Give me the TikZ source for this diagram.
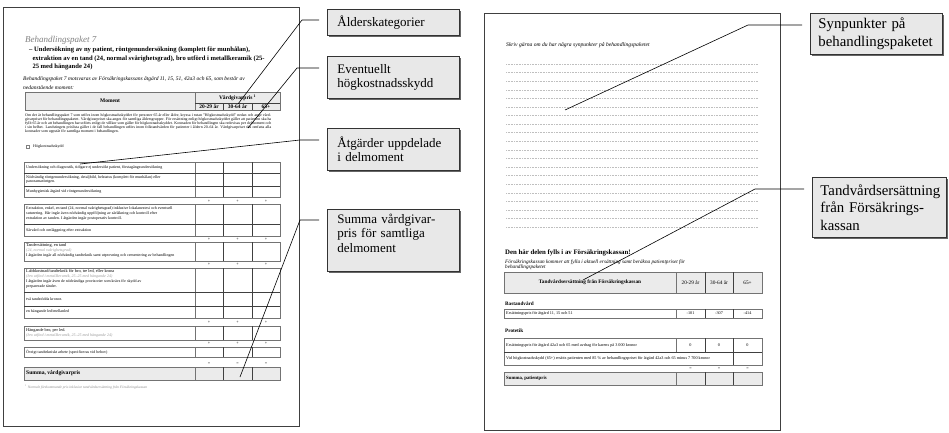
\documentclass[tikz,border=0pt]{standalone}
\usepackage{fontspec}
\setmainfont{Liberation Serif}
\usetikzlibrary{shadows}
\begin{document}
\begin{tikzpicture}[x=1pt,y=-1pt,
  pagebox/.style={draw=black!75, line width=0.9pt, fill=white, general shadow={fill=black!55, shadow xshift=1.3pt, shadow yshift=-1.3pt}},
  calbox/.style={draw=black!80, line width=0.8pt, fill=black!9, align=left, anchor=north west, inner ysep=2pt, general shadow={fill=black!60, shadow xshift=1.1pt, shadow yshift=-1.1pt}},
  calL/.style={calbox, font=\fontsize{13}{14.5}\selectfont, inner xsep=10pt, text width=112pt},
  calR/.style={calbox, font=\fontsize{14.8}{17.5}\selectfont, inner xsep=8pt},
  leaderline/.style={draw=black, line width=0.6pt, shorten >=8pt},
  tx/.style={inner sep=0pt, anchor=west, align=left, font=\fontsize{4}{4.8}\selectfont},
  txm/.style={inner sep=0pt, anchor=north west, align=left, font=\fontsize{4}{5}\selectfont},
  txc/.style={inner sep=0pt, font=\fontsize{4.2}{5}\selectfont},
  hd/.style={inner sep=0pt, font=\fontsize{5.5}{6.5}\selectfont\bfseries},
  tbl/.style={draw=black!55, line width=0.8pt},
  tblin/.style={draw=black!75, line width=0.35pt},
  hdrfill/.style={fill=black!8},
  dotline/.style={draw=black!25, line width=0.35pt, dash pattern=on 1pt off 0.6pt},
]
\useasboundingbox (0,0) rectangle (949,432);

%================ LEFT PAGE ================
\path[pagebox] (3,7) rectangle (299,426);
\node[anchor=west, inner sep=0pt, text=black!50, font=\fontsize{9}{10}\selectfont\itshape] (ltitle) at (25,40) {Behandlingspaket 7};
\node[anchor=north west, inner sep=0pt, align=left, font=\fontsize{6.6}{8.5}\selectfont\bfseries] (lhead) at (29,46.8)
 {– Undersökning av ny patient, röntgenundersökning (komplett för munhålan),\\\hspace*{3.3pt}extraktion av en tand (24, normal svårighetsgrad), bro utförd i metallkeramik (25-\\\hspace*{3.3pt}25 med hängande 24)};
\node[anchor=north west, inner sep=0pt, align=left, font=\fontsize{5.5}{8.8}\selectfont\itshape] (lintro) at (23,76.3)
 {Behandlingspaket 7 motsvaras av Försäkringskassans åtgärd 11, 15, 51, 42a3 och 65, som består av\\nedanstående moment:};

% header table
\path[tbl, hdrfill] (25,92) rectangle (280,110);
\draw[tbl] (195,92) -- (195,110);
\draw[tblin] (195,103) -- (280,103) (223,103) -- (223,110) (252,103) -- (252,110);
\node[hd] (lhm) at (110,101) {Moment};
\node[hd] (lhv) at (237.5,97.6) {Vårdgivarpris\,\textsuperscript{1}};
\node[hd] (lh1) at (209,106.7) {20-29 år};
\node[hd] (lh2) at (237.5,106.7) {30-64 år};
\node[hd] (lh3) at (266,106.7) {65+};

\node[anchor=north west, inner sep=0pt, text width=246pt, align=justify, font=\fontsize{3.9}{4}\selectfont] (lpara) at (25,113.8)
 {Om det är behandlingspaket 7 som utförs inom högkostnadsskyddet för personer 65 år eller äldre, kryssa i rutan ”Högkostnadsskydd” nedan och ange vårdgivarpriset för behandlingspaketet. Vårdgivarpriset ska anges för samtliga åldersgrupper. För ersättning enligt högkostnadsskyddet gäller att patienten ska ha fyllt 65 år och att behandlingen har utförts enligt de villkor som gäller för högkostnadsskyddet. Kostnaden för behandlingen ska redovisas per delmoment och i sin helhet. Landstingets prislista gäller i de fall behandlingen utförs inom folktandvården för patienter i åldern 20–64 år. Vårdgivarpriset ska omfatta alla kostnader som uppstår för samtliga moment i behandlingen.};
\draw[black!50, line width=0.3pt] (26,145.5) rectangle (29,148.5);
\node[tx] (lhk) at (33,147) {Högkostnadsskydd};

% table groups
\path[hdrfill] (24,367) rectangle (280,380);
\foreach \t/\b in {162/197, 204/236, 242/261, 268/318, 326/340, 347/357, 367/380} {
  \draw[tbl] (24,\t) rectangle (280,\b);
  \draw[tbl] (195,\t) -- (195,\b);
  \draw[tblin] (223,\t) -- (223,\b) (252,\t) -- (252,\b);
}
\draw[tblin] (24,173) -- (280,173) (24,186) -- (280,186)
             (24,224) -- (280,224)
             (24,292) -- (280,292) (24,306) -- (280,306);
\foreach \y/\s [count=\i] in {201/+, 239/+, 264.5/+, 322/+, 343.5/+, 363.5/=}
  \foreach \x [count=\j] in {209,237.5,266}
    \node[txc] (lp\i\j) at (\x,\y) {\s};

\node[tx] (r11) at (26,167.5) {Undersökning och diagnostik, tidigare ej undersökt patient, förstagångsundersökning};
\node[tx] (r12) at (26,179.5) {Nödvändig röntgenundersökning, detaljbild, helstatus (komplett för munhålan) eller\\panoramaröntgen.};
\node[tx] (r13) at (26,191.5) {Munhygienisk åtgärd vid röntgenundersökning};
\node[tx] (r21) at (26,213.5) {Extraktion, enkel, en tand (24, normal svårighetsgrad) inklusive lokalanestesi och eventuell\\suturering. Här ingår även nödvändig uppföljning av sårläkning och kontroll efter\\extraktion av tanden. I åtgärden ingår postoperativ kontroll.};
\node[tx] (r22) at (26,230) {Sårvård och omläggning efter extraktion};
\node[txm] (r31) at (26,243.3) {%
  {\fontsize{4.3}{5}\selectfont Tandersättning, en tand}\\
  {\itshape\color{black!40}(24, normal svårighetsgrad)}\\
  I åtgärden ingår all nödvändig tandteknik samt utprovning och cementering av behandlingen};
\node[txm] (r41) at (26,268.8) {%
  {\fontsize{4.3}{5}\selectfont Labbkostnad/tandteknik för bro, tre led, eller krona}\\
  {\itshape\color{black!40}(bro utförd i metallkeramik, 25–25 med hängande 24)}\\
  I åtgärden ingår även de nödvändiga provisorier som krävs för skydd av\\
  preparerade tänder.};
\node[tx] (r42) at (26,299) {två tandstödda kronor.};
\node[tx] (r43) at (26,312) {en hängande led/mellanled};
\node[txm] (r51) at (26,328.3) {%
  {\fontsize{4.3}{5}\selectfont Hängande bro, per led.}\\
  {\itshape\color{black!40}(bro utförd i metallkeramik, 25–25 med hängande 24)}};
\node[tx] (r61) at (26,352) {Övrigt tandtekniskt arbete (specificeras vid behov)};
\node[tx, font=\fontsize{5.6}{6}\selectfont\bfseries] (rsum) at (26,373.5) {Summa, vårdgivarpris};
\node[tx, text=black!45, font=\fontsize{3.6}{4}\selectfont\itshape] (lfoot) at (25,387) {\textsuperscript{1} Normalt förekommande pris inklusive tandvårdsersättning från Försäkringskassan};

%================ RIGHT PAGE ================
\path[pagebox] (484,13) rectangle (780,430);
\node[tx, font=\fontsize{5.6}{6}\selectfont\itshape] (rq) at (506,45) {Skriv gärna om du har några synpunkter på behandlingspaketet};
\foreach \k in {0,...,19}
  \draw[dotline] (506,{64+8.58*\k}) -- (758,{64+8.58*\k});

\node[tx, font=\fontsize{6.8}{8}\selectfont\bfseries] (rfk) at (505,253) {Den här delen fylls i av Försäkringskassan!};
\node[anchor=north west, inner sep=0pt, align=left, font=\fontsize{5.2}{5.6}\selectfont\itshape] (rfk2) at (505,259.2)
 {Försäkringskassan kommer att fylla i aktuell ersättning samt beräkna patientpriset för\\behandlingspaketet};

\path[tbl, hdrfill] (504,272) rectangle (762,293);
\draw[tbl] (676,272) -- (676,293);
\draw[tblin] (705,272) -- (705,293) (733,272) -- (733,293);
\node[hd, font=\fontsize{5.3}{6}\selectfont\bfseries] (rh0) at (590,282.5) {Tandvårdsersättning från Försäkringskassan};
\node[hd, font=\fontsize{5.3}{6}\selectfont] (rh1) at (690.5,282.5) {20-29 år};
\node[hd, font=\fontsize{5.3}{6}\selectfont] (rh2) at (719,282.5) {30-64 år};
\node[hd, font=\fontsize{5.3}{6}\selectfont] (rh3) at (747.5,282.5) {65+};

\node[tx, font=\fontsize{5.2}{6}\selectfont\bfseries] (rbas) at (505,304) {Bastandvård};
\draw[tbl] (504,309) rectangle (762,318);
\draw[tbl] (676,309) -- (676,318);
\draw[tblin] (705,309) -- (705,318) (733,309) -- (733,318);
\node[tx, font=\fontsize{4.2}{5}\selectfont] (rb1) at (506,313.5) {Ersättningspris för åtgärd 11, 15 och 51};
\node[txc] (rb2) at (690.5,313.5) {-101};
\node[txc] (rb3) at (719,313.5) {-307};
\node[txc] (rb4) at (747.5,313.5) {-414};

\node[tx, font=\fontsize{5.2}{6}\selectfont\bfseries] (rpro) at (505,331) {Protetik};
\draw[tbl] (504,338) rectangle (762,365);
\draw[tblin] (504,352) -- (762,352);
\draw[tbl] (676,338) -- (676,352);
\draw[tblin] (705,338) -- (705,352) (733,338) -- (733,365);
\node[tx, font=\fontsize{4.2}{5}\selectfont] (rp1) at (506,345) {Ersättningspris för åtgärd 42a3 och 65 med avdrag för karens på 3 000 kronor};
\node[txc] (rp2) at (690.5,345) {0};
\node[txc] (rp3) at (719,345) {0};
\node[txc] (rp4) at (747.5,345) {0};
\node[tx, font=\fontsize{4.2}{5}\selectfont] (rp5) at (506,358.5) {Vid högkostnadsskydd (65+) ersätts patienten med 85 \% av behandlingspriset för åtgärd 42a3 och 65 minus 7 700 kronor};
\foreach \x [count=\j] in {690.5,719,747.5}
  \node[txc] (req\j) at (\x,369) {=};

\path[tbl, hdrfill] (504,372) rectangle (762,385);
\draw[tbl] (676,372) -- (676,385);
\draw[tblin] (705,372) -- (705,385) (733,372) -- (733,385);
\node[tx, font=\fontsize{4.8}{5}\selectfont\bfseries] (rsum2) at (506,378.5) {Summa, patientpris};

%================ CALLOUTS ================
\node[calL, minimum height=26pt] (b1) at (327,9) {Ålderskategorier};
\node[calL, minimum height=42pt] (b2) at (327,56) {Eventuellt\\högkostnadsskydd};
\node[calL, minimum height=42pt] (b3) at (327,128) {Åtgärder uppdelade\\i delmoment};
\node[calL, minimum height=62pt] (b4) at (327,209) {Summa vårdgivar-\\pris för samtliga\\delmoment\\\mbox{}};
\node[calR, text width=116pt, minimum height=41pt] (b5) at (810,13) {Synpunkter på\\behandlingspaketet};
\node[calR, text width=118pt, minimum height=60pt] (b6) at (812,177) {Tandvårdsersättning\\från Försäkrings-\\kassan};

\coordinate (a1) at (238,104);  \coordinate (k1) at (302,20);
\coordinate (a2) at (248,128);  \coordinate (k2) at (297,68);
\coordinate (a3) at (80,164);   \coordinate (k3) at (300,140);
\coordinate (a4) at (240,377);  \coordinate (k4) at (300,220);
\coordinate (a5) at (565,110);  \coordinate (k5) at (748,25);
\coordinate (a6) at (583,280);  \coordinate (k6) at (755,189);

\draw[leaderline] (a1) -- (k1) -- (k1 -| b1.west);
\draw[leaderline] (a2) -- (k2) -- (k2 -| b2.west);
\draw[leaderline] (a3) -- (k3) -- (k3 -| b3.west);
\draw[leaderline] (a4) -- (k4) -- (k4 -| b4.west);
\draw[leaderline] (a5) -- (k5) -- (k5 -| b5.west);
\draw[leaderline] (a6) -- (k6) -- (k6 -| b6.west);
\end{tikzpicture}
\end{document}
